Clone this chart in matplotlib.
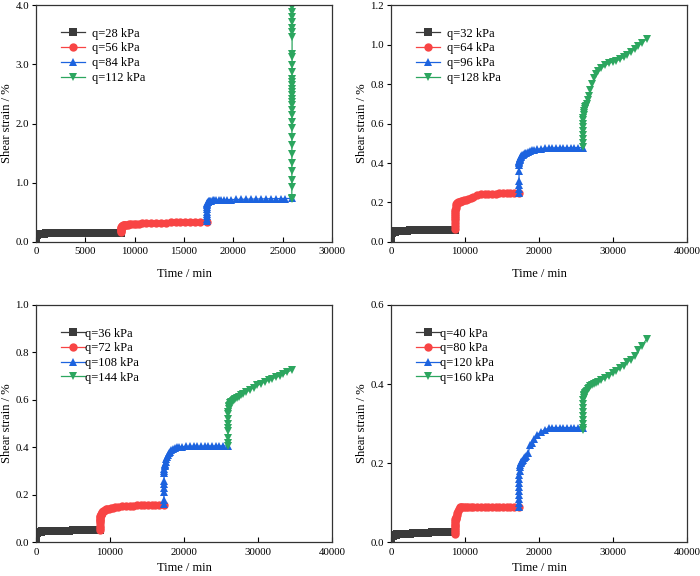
import matplotlib.pyplot as plt
import numpy as np

plt.rcParams['font.family'] = ['Liberation Serif', 'DejaVu Serif']

# elapsed minutes inside one loading stage, and the start of each stage
t_rel = [0, 2, 5, 10, 15, 20, 30, 45, 60, 90, 120, 180, 240, 300, 400, 500, 650, 800,
         1000, 1250, 1500, 1800, 2100, 2500, 3000, 3500, 4000, 4500, 5000, 5500, 6000,
         6500, 7000, 7500, 8000, 8640]
stage_start = [0, 8640, 17280, 25920]

# panel a
a_q = [28, 56, 84, 112]
a_s1 = [0.0, 0.02, 0.04, 0.06, 0.08, 0.09, 0.10, 0.11, 0.115, 0.12, 0.125, 0.13, 0.133, 0.135,
        0.137, 0.139, 0.14, 0.142, 0.143, 0.144, 0.145, 0.146, 0.147, 0.148, 0.149, 0.15,
        0.15, 0.151, 0.151, 0.152, 0.152, 0.153, 0.153, 0.154, 0.154, 0.155]
a_s2 = [0.16, 0.18, 0.20, 0.22, 0.235, 0.245, 0.255, 0.26, 0.265, 0.27, 0.273, 0.278, 0.281,
        0.284, 0.287, 0.29, 0.293, 0.296, 0.30, 0.303, 0.306, 0.31, 0.313, 0.317, 0.32, 0.323,
        0.326, 0.328, 0.33, 0.332, 0.333, 0.335, 0.336, 0.337, 0.338, 0.34]
a_s3 = [0.35, 0.39, 0.43, 0.47, 0.51, 0.55, 0.59, 0.62, 0.64, 0.66, 0.67, 0.68, 0.685, 0.69,
        0.693, 0.696, 0.70, 0.702, 0.705, 0.707, 0.709, 0.711, 0.713, 0.715, 0.718, 0.72,
        0.722, 0.724, 0.725, 0.727, 0.728, 0.73, 0.731, 0.732, 0.733, 0.735]
# failure stage: strain runs away at almost constant time
a_t4 = [25920, 25921, 25922, 25924, 25925, 25926, 25928, 25929, 25930, 25931, 25932, 25933,
        25934, 25935, 25936, 25937, 25938, 25939, 25940, 25941, 25942, 25943, 25944, 25945,
        25946, 25947, 25948, 25949, 25950, 25951, 25952, 25953, 25954, 25955]
a_s4 = [0.72, 0.74, 0.93, 1.05, 1.19, 1.34, 1.49, 1.63, 1.78, 1.92, 2.03, 2.14, 2.23, 2.31,
        2.37, 2.42, 2.48, 2.54, 2.59, 2.65, 2.71, 2.76, 2.87, 2.99, 3.13, 3.18, 3.47, 3.55,
        3.62, 3.72, 3.80, 3.88, 3.97, 4.05]

# panel b
b_q = [32, 64, 96, 128]
b_s1 = [0.0, 0.01, 0.02, 0.03, 0.035, 0.038, 0.041, 0.043, 0.044, 0.046, 0.047, 0.048, 0.049,
        0.05, 0.051, 0.052, 0.053, 0.054, 0.055, 0.055, 0.056, 0.057, 0.057, 0.058, 0.058,
        0.059, 0.059, 0.06, 0.06, 0.06, 0.061, 0.061, 0.061, 0.062, 0.062, 0.062]
b_s2 = [0.065, 0.08, 0.095, 0.11, 0.12, 0.13, 0.14, 0.15, 0.16, 0.17, 0.18, 0.19, 0.195, 0.198,
        0.20, 0.202, 0.204, 0.206, 0.209, 0.212, 0.215, 0.219, 0.224, 0.23, 0.237, 0.241,
        0.243, 0.244, 0.245, 0.245, 0.246, 0.246, 0.246, 0.247, 0.247, 0.247]
b_s3 = [0.25, 0.27, 0.29, 0.31, 0.36, 0.39, 0.40, 0.405, 0.41, 0.415, 0.42, 0.425, 0.43, 0.435,
        0.44, 0.443, 0.447, 0.45, 0.453, 0.456, 0.46, 0.464, 0.467, 0.47, 0.473, 0.475, 0.476,
        0.476, 0.477, 0.477, 0.477, 0.477, 0.478, 0.478, 0.478, 0.478]
b_s4 = [0.48, 0.50, 0.52, 0.54, 0.56, 0.58, 0.60, 0.62, 0.63, 0.645, 0.655, 0.665, 0.675, 0.685,
        0.69, 0.70, 0.72, 0.74, 0.77, 0.80, 0.83, 0.85, 0.865, 0.88, 0.895, 0.905, 0.912,
        0.918, 0.925, 0.935, 0.95, 0.965, 0.98, 0.995, 1.01, 1.03]

# panel c
c_q = [36, 72, 108, 144]
c_s1 = [0.0, 0.01, 0.02, 0.027, 0.032, 0.035, 0.037, 0.039, 0.04, 0.041, 0.042, 0.043, 0.043,
        0.044, 0.044, 0.045, 0.045, 0.046, 0.046, 0.047, 0.047, 0.048, 0.048, 0.048, 0.049,
        0.049, 0.049, 0.049, 0.05, 0.05, 0.05, 0.05, 0.05, 0.05, 0.05, 0.05]
c_s2 = [0.05, 0.06, 0.07, 0.08, 0.09, 0.095, 0.10, 0.105, 0.11, 0.113, 0.116, 0.12, 0.124,
        0.127, 0.131, 0.134, 0.137, 0.139, 0.141, 0.142, 0.143, 0.145, 0.147, 0.15, 0.152,
        0.154, 0.155, 0.155, 0.156, 0.156, 0.156, 0.156, 0.156, 0.156, 0.156, 0.156]
c_s3 = [0.16, 0.18, 0.21, 0.23, 0.245, 0.26, 0.29, 0.30, 0.31, 0.32, 0.325, 0.33, 0.34, 0.35,
        0.36, 0.367, 0.375, 0.382, 0.388, 0.393, 0.397, 0.40, 0.402, 0.403, 0.404, 0.405,
        0.405, 0.405, 0.405, 0.406, 0.406, 0.406, 0.406, 0.406, 0.406, 0.406]
c_s4 = [0.405, 0.42, 0.44, 0.47, 0.48, 0.50, 0.52, 0.54, 0.55, 0.56, 0.57, 0.575, 0.58, 0.585,
        0.59, 0.593, 0.597, 0.60, 0.604, 0.608, 0.613, 0.619, 0.625, 0.633, 0.643, 0.652,
        0.661, 0.669, 0.676, 0.683, 0.689, 0.695, 0.701, 0.708, 0.716, 0.727]

# panel d
d_q = [40, 80, 120, 160]
d_s1 = [0.0, 0.004, 0.008, 0.011, 0.013, 0.014, 0.015, 0.015, 0.016, 0.016, 0.016, 0.017,
        0.017, 0.018, 0.018, 0.019, 0.019, 0.02, 0.02, 0.021, 0.021, 0.021, 0.022, 0.022,
        0.023, 0.023, 0.024, 0.024, 0.024, 0.025, 0.025, 0.025, 0.025, 0.025, 0.025, 0.025]
d_s2 = [0.02, 0.025, 0.03, 0.035, 0.04, 0.045, 0.05, 0.055, 0.058, 0.06, 0.062, 0.065, 0.07,
        0.075, 0.08, 0.085, 0.088, 0.09, 0.09, 0.09, 0.09, 0.09, 0.09, 0.09, 0.09, 0.09, 0.09,
        0.09, 0.09, 0.09, 0.09, 0.09, 0.09, 0.09, 0.09, 0.09]
d_s3 = [0.09, 0.10, 0.11, 0.12, 0.13, 0.14, 0.15, 0.16, 0.17, 0.18, 0.19, 0.195, 0.20, 0.202,
        0.205, 0.208, 0.212, 0.215, 0.218, 0.225, 0.245, 0.25, 0.26, 0.272, 0.28, 0.285,
        0.288, 0.29, 0.29, 0.29, 0.29, 0.29, 0.29, 0.29, 0.29, 0.29]
d_s4 = [0.285, 0.29, 0.30, 0.31, 0.32, 0.33, 0.34, 0.35, 0.36, 0.365, 0.37, 0.372, 0.375,
        0.377, 0.38, 0.383, 0.387, 0.39, 0.395, 0.398, 0.40, 0.403, 0.405, 0.41, 0.415, 0.42,
        0.427, 0.433, 0.44, 0.447, 0.455, 0.462, 0.47, 0.487, 0.497, 0.515]

colors = ['#3b3b3b', '#f84444', '#1c63df', '#2ca65f']
markers = ['s', 'o', '^', 'v']


def stage(i):
    return np.array(t_rel) + stage_start[i]


fig = plt.figure(figsize=(7.0, 5.76), dpi=100)

panels = [
    ([0.0514, 0.580, 0.423, 0.411], a_q, [a_s1, a_s2, a_s3, a_s4], 4.0, 1.0, 30000, 5000, 0.6, 8),
    ([0.5586, 0.580, 0.423, 0.411], b_q, [b_s1, b_s2, b_s3, b_s4], 1.2, 0.2, 40000, 10000, 0.6, 8),
    ([0.0514, 0.0585, 0.423, 0.412], c_q, [c_s1, c_s2, c_s3, c_s4], 1.0, 0.2, 40000, 10000, 0.0, 4),
    ([0.5586, 0.0585, 0.423, 0.412], d_q, [d_s1, d_s2, d_s3, d_s4], 0.6, 0.2, 40000, 10000, 0.0, 4),
]

for k, (rect, qs, series, ymax, ystep, xmax, xstep, pad, xlpad) in enumerate(panels):
    ax = fig.add_axes(rect)
    for i in range(4):
        if k == 0 and i == 3:
            tx = a_t4
        else:
            tx = stage(i)
        ax.plot(tx, series[i], color=colors[i], marker=markers[i], ms=6, lw=0.9,
                markeredgewidth=0, label='q=%d kPa' % qs[i])
    ax.set_xlim(0, xmax)
    ax.set_ylim(0, ymax)
    ax.set_xticks(np.arange(0, xmax + 1, xstep))
    ax.set_yticks(np.arange(0, ymax + ystep / 2, ystep))
    ax.yaxis.set_major_formatter(plt.FormatStrFormatter('%.1f'))
    ax.tick_params(axis='x', direction='in', length=3.5, width=0.8, labelsize=7.8, pad=4)
    ax.tick_params(axis='y', direction='out', length=3, width=0.8, labelsize=7.8, pad=2)
    for sp in ax.spines.values():
        sp.set_linewidth(0.9)
        sp.set_color('#333333')
    ax.set_xlabel('Time / min', fontsize=9, labelpad=xlpad)
    ax.set_ylabel('Shear strain / %', fontsize=9, labelpad=2)
    ax.legend(loc='upper left', bbox_to_anchor=(0.085, 0.905), frameon=False, fontsize=9,
              handlelength=1.9, handletextpad=pad, labelspacing=0.22, borderaxespad=0,
              borderpad=0)

fig.savefig('out.png', dpi=100)
